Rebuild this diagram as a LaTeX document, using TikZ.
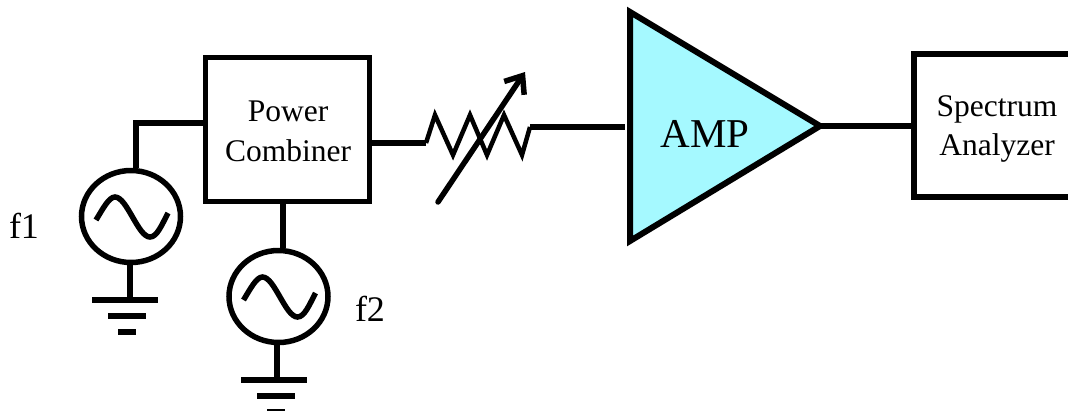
\documentclass[tikz,border=0pt]{standalone}
\usepackage{fontspec}
\setmainfont{Liberation Serif}
\usetikzlibrary{shapes,shapes.geometric,arrows.meta}

\tikzset{
  sine/.pic={
    \draw[line width=5.5pt] (-35,3.5) .. controls (-28,-8) and (-22,-19.5) .. (-16,-19.5)
      .. controls (-4,-19.5) and (7,20.5) .. (19,20.5)
      .. controls (26,20.5) and (31,8) .. (37,-3.5);
  },
  gnd/.pic={
    \draw[line width=6pt] (-33,0) -- (33,0);
    \draw[line width=6pt] (-17,16) -- (21,16);
    \draw[line width=6pt] (-7,32) -- (11,32);
  }
}

\begin{document}
\begin{tikzpicture}[x=1pt,y=-1pt,line width=5.5pt]
      \tikzstyle{wire} = [draw=black,line width=5.5pt]
      \tikzstyle{word} = [font=\fontsize{31.5}{39.5}\selectfont,align=center,inner sep=0pt]
      \tikzstyle{block} = [draw=black,line width=5.5pt,rectangle,inner sep=0pt]
      \tikzstyle{source} = [draw=black,line width=5.5pt,ellipse,inner sep=0pt,minimum width=99pt,minimum height=92pt]
      \useasboundingbox (0,0) rectangle (1068,410);

      \node (combiner) [block,minimum width=164pt,minimum height=144pt] at (287.5,129.5) {};
      \node (analyzer) [block,minimum width=166pt,minimum height=143pt] at (997,125.5) {};
      \node (combinerlabel) [word] at (288,131.5) {Power\\Combiner};
      \node (analyzerlabel) [word] at (997,129) {Spectrum\\Analyzer};
      \node (src1) [source] at (131,216.5) {};
      \node (src2) [source] at (278.5,296.5) {};
      \node (f1) [word,font=\fontsize{36}{40}\selectfont] at (24,226) {f1};
      \node (f2) [word,font=\fontsize{36}{40}\selectfont] at (370,309) {f2};
      \coordinate (gnd1) at (125,300);
      \coordinate (gnd2) at (274,380);
      \path (src1) pic {sine};
      \path (src2) pic {sine};
      \path (gnd1) pic {gnd};
      \path (gnd2) pic {gnd};

      % amplifier
      \coordinate (amptop) at (630,12);
      \coordinate (ampbot) at (630,241);
      \coordinate (amptip) at (820,126);
      \draw[wire,line width=6pt,fill={rgb,255:red,165;green,249;blue,255}] (amptop) -- (amptip) -- (ampbot) -- cycle;
      \node (amp) [word,font=\fontsize{41}{46}\selectfont] at (705,133.5) {AMP};

      \draw[wire] ([yshift=6.5pt]combiner.west) -| ([xshift=5pt]src1.north);
      \draw[wire] ([xshift=-4.5pt]combiner.south) -- ([xshift=4.5pt]src2.north);
      \draw[wire] ([xshift=-1pt]src1.south) -- ([xshift=5pt]gnd1);
      \draw[wire] ([xshift=-1.5pt]src2.south) -- ([xshift=3pt]gnd2);
      \draw[wire] (amptip) -- (amptip -| analyzer.west);

      % variable attenuator
      \coordinate (resin) at (426,143);
      \coordinate (resout) at (530,127);
      \draw[wire] ([yshift=-13.5pt]combiner.east) -- (resin);
      \draw[line width=4.5pt] (resin) -- (435,115) -- (453,155) -- (470,115) -- (487,155) -- (504,115) -- (522,155) -- (resout);
      \draw[wire] (resout) -- (625,127);
      \draw[line width=5.5pt,line cap=round,-{Straight Barb[length=15pt,width=24pt,line width=5.5pt]}] (438,202) -- (525,72);
\end{tikzpicture}
\end{document}
